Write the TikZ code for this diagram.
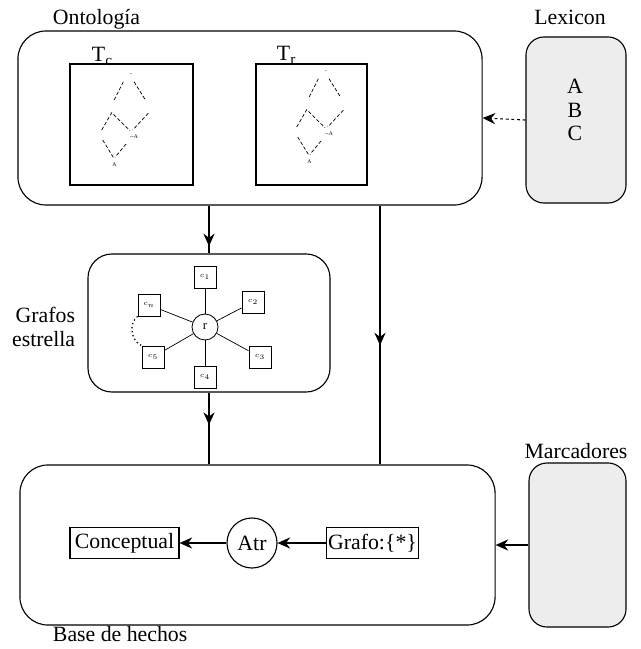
\documentclass[tikz,border=0pt]{standalone}
\usepackage{fontspec}
\setmainfont{Liberation Serif}
\usetikzlibrary{arrows.meta,calc,decorations.markings}

\definecolor{CajaGris}{rgb}{0.93,0.93,0.93}

\begin{document}
\begin{tikzpicture}[x=0.025cm,y=-0.025cm,
  every node/.style={font=\fontsize{15.5}{16.5}\selectfont},
  linea/.style={line width=0.8pt},
  punta/.style={-{Stealth[length=9pt,width=8pt,inset=3pt]}},
  medio/.style={postaction={decorate},decoration={markings,
      mark=at position #1 with {\arrow{Stealth[length=9pt,width=8pt,inset=3pt]}}}},
  bloque/.style={draw,line width=0.8pt,rounded corners=0.7cm,inner sep=0pt},
  gris/.style={draw,line width=0.8pt,rounded corners=0.45cm,fill=CajaGris,inner sep=0pt},
  marco/.style={draw,line width=0.8pt,inner sep=1pt},
  sat/.style={draw,line width=0.6pt,minimum size=0.55cm,inner sep=0pt,font=\fontsize{5}{5}\selectfont},
  red/.style={line width=0.5pt,dash pattern=on 2.5pt off 1.5pt},
  mini/.style={font=\fontsize{4}{4}\selectfont,inner sep=0pt}
]

\useasboundingbox (0,0) rectangle (640,649);

% ontologia
\node[bloque,minimum width=11.6cm,minimum height=4.35cm] (onto) at (250,118) {};
\node[anchor=base west] (ontoL) at (48,25) {Ontología};
\node[marco,minimum width=3.075cm,minimum height=3.025cm] (tc) at (131.5,124.5) {};
\node[marco,minimum width=2.775cm,minimum height=3.025cm] (tr) at (311.5,124.5) {};
\node[anchor=base west] (tcL) at (87,62) {T\textsubscript{c}};
\node[anchor=base west] (trL) at (272,61) {T\textsubscript{r}};

% retículos
\foreach \px/\py [count=\k] in {131/75,326/72}{
  \begin{scope}[shift={(\px,\py)}]
    \node[mini] (cima\k) at (0,0) {-};
    \draw[red] (-7.7,6.7) -- (-17.7,26.7);
    \draw[red] (3,6.7) -- (14,24.3);
    \draw[red] (-29.3,55) -- (-19.3,37.7) -- (-1,55.7);
    \draw[red] (17.3,38.3) -- (1.7,55);
    \node[mini] (medio\k) at (3,62) {-{}-A};
    \draw[red] (-28.3,65) -- (-17.7,82.3);
    \draw[red] (-5,69) -- (-16,82.3);
    \node[mini] (fondo\k) at (-16.7,90) {A};
  \end{scope}
}

% lexicon
\node[gris,minimum width=2.5cm,minimum height=4.15cm] (lex) at (576,120) {};
\node[anchor=base] (lexL) at (570,25) {Lexicon};
\node[align=center] (abc) at (575,110) {A\\B\\C};
\draw[linea,dash pattern=on 2pt off 2pt,punta] (lex.west) -- (onto.east);

% grafos estrella
\node[bloque,rounded corners=0.6cm,minimum width=6.05cm,minimum height=3.45cm] (grafos) at (209,323) {};
\node[align=right,anchor=east] (grafosL) at (80,327) {Grafos\\estrella};
\node[draw,circle,line width=0.6pt,minimum size=0.65cm,inner sep=0pt] (r) at (205,327) {\fontsize{9}{9}\selectfont r};
\foreach \n/\lab/\cx/\cy in {c1/$c_1$/205/277, c2/$c_2$/253/302, c3/$c_3$/260/357,
                             c4/$c_4$/205/377, c5/$c_5$/153/357, cn/$c_n$/149/305}{
  \node[sat] (\n) at (\cx,\cy) {\lab};
  \draw[line width=0.5pt] (r) -- (\n);
}
\draw[dotted,line width=0.9pt] (cn.south west) to[bend right=60] (c5.north west);

% base de hechos
\node[bloque,minimum width=11.875cm,minimum height=4cm] (base) at (257.5,545) {};
\node[anchor=base west] (baseL) at (48,641) {Base de hechos};
\node[marco,minimum width=2.725cm,minimum height=0.775cm] (concep) at (124.5,543) {Conceptual};
\node[draw,circle,line width=0.8pt,minimum size=1.25cm,inner sep=0pt] (atr) at (252,543) {Atr};
\node[marco,minimum width=2.025cm,minimum height=0.775cm] (grafo) at (372.5,543) {Grafo:\{*\}};
\draw[linea,punta] (grafo) -- (atr);
\draw[linea,punta] (atr) -- (concep);

% marcadores
\node[gris,minimum width=2.425cm,minimum height=4.1cm] (marc) at (577.5,545) {};
\node[anchor=base] (marcL) at (576,458) {Marcadores};
\draw[linea,punta] (marc.west) -- (marc.west -| base.east);

% conexiones verticales
\coordinate (bajada) at (380,0);
\draw[linea,medio=0.85] (onto.south -| grafos.north) -- (grafos.north);
\draw[linea,medio=0.45] (grafos.south) -- (grafos.south |- base.north);
\draw[linea,medio=0.54] (onto.south -| bajada) -- (base.north -| bajada);

\end{tikzpicture}
\end{document}
